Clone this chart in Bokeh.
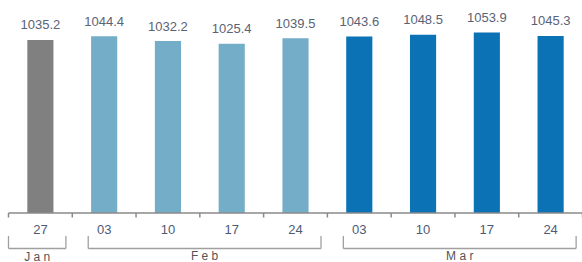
from bokeh.plotting import figure
from bokeh.models import Range1d, ColumnDataSource
from bokeh.core.properties import value
from bokeh.embed import file_html
from bokeh.resources import INLINE

# ---- data ----
days = ["27", "03", "10", "17", "24", "03", "10", "17", "24"]
months = ["Jan", "Feb", "Feb", "Feb", "Feb", "Mar", "Mar", "Mar", "Mar"]
values = [1035.2, 1044.4, 1032.2, 1025.4, 1039.5, 1043.6, 1048.5, 1053.9, 1045.3]
month_names = ["Jan", "Feb", "Mar"]
month_colors = {"Jan": "#808080", "Feb": "#74adc8", "Mar": "#0b72b6"}

# ---- layout constants ----
W, H = 582, 262
LEFT_PAD = 8                      # white space left of the axis start (px)
BASE = 597.0                      # value at the axis line
PX = 0.395                        # pixels per value unit
TOP_PX, BOT_PX = 212.5, -49.5     # decoration range in pixel units (axis at 0)
TEXT_SHIFT = 4                    # compensate renderer baseline (px)
MONTH_LABEL_Y = [-47.5 + TEXT_SHIFT, -46.5 + TEXT_SHIFT, -46.5 + TEXT_SHIFT]
FONT = value("Liberation Sans")

n = len(values)
cat_px = (W - LEFT_PAD) / n
xs = [i + 0.5 for i in range(n)]
colors = [month_colors[m] for m in months]
labels = ["%.1f" % v for v in values]

p = figure(width=W, height=H, output_backend="svg", toolbar_location=None,
           x_range=Range1d(-LEFT_PAD / cat_px, n), y_range=Range1d(BOT_PX, TOP_PX),
           min_border=0, min_border_left=0, min_border_right=0,
           min_border_top=0, min_border_bottom=0)
p.extra_y_ranges = {"val": Range1d(BASE + BOT_PX / PX, BASE + TOP_PX / PX)}
p.axis.visible = False
p.grid.visible = False
p.outline_line_color = None
p.background_fill_color = "white"
p.border_fill_color = "white"

src = ColumnDataSource(dict(x=xs, v=values, c=colors, lab=labels, day=days,
                            ty=[-20 + TEXT_SHIFT] * n))

p.vbar(x="x", top="v", bottom=BASE, width=0.41, fill_color="c", line_color=None,
       source=src, y_range_name="val")
p.text(x="x", y="v", text="lab", source=src, y_range_name="val",
       text_align="center", text_baseline="alphabetic", y_offset=-11 - TEXT_SHIFT,
       text_font=FONT, text_font_size="13px", text_color="#5a6275")

# axis line and ticks at category boundaries
p.segment(x0=[0], y0=[0], x1=[n], y1=[0], line_color="#8a8a8a", line_width=1.5)
p.segment(x0=list(range(n + 1)), y0=[0] * (n + 1), x1=list(range(n + 1)),
          y1=[-4.5] * (n + 1), line_color="#8a8a8a", line_width=1.5)

# day tick labels
p.text(x="x", y="ty", text="day", source=src, text_align="center",
       text_baseline="alphabetic", text_font=FONT, text_font_size="13px",
       text_color="#4d5a78")

# month brackets
first = {m: months.index(m) for m in month_names}
last = {m: n - 1 - months[::-1].index(m) for m in month_names}
bx0, bx1 = [], []
for m in month_names:
    a = first[m] + 0.5 - (0.5 if first[m] == 0 else 0.25)
    b = min(last[m] + 0.5 + 0.4, n)
    bx0.append(a)
    bx1.append(b)
yb0, yb1 = -23, -35.5
p.segment(x0=bx0, y0=[yb1] * 3, x1=bx1, y1=[yb1] * 3, line_color="#a0a0a0", line_width=1.3)
p.segment(x0=bx0, y0=[yb0] * 3, x1=bx0, y1=[yb1] * 3, line_color="#a0a0a0", line_width=1.3)
p.segment(x0=bx1, y0=[yb0] * 3, x1=bx1, y1=[yb1] * 3, line_color="#a0a0a0", line_width=1.3)

p.text(x=[(a + b) / 2 for a, b in zip(bx0, bx1)], y=MONTH_LABEL_Y,
       text=[" ".join(m) for m in month_names], text_align="center",
       text_baseline="alphabetic", text_font=FONT, text_font_size="12px",
       text_color="#555555")

open("out.html", "w").write(file_html(p, INLINE))
